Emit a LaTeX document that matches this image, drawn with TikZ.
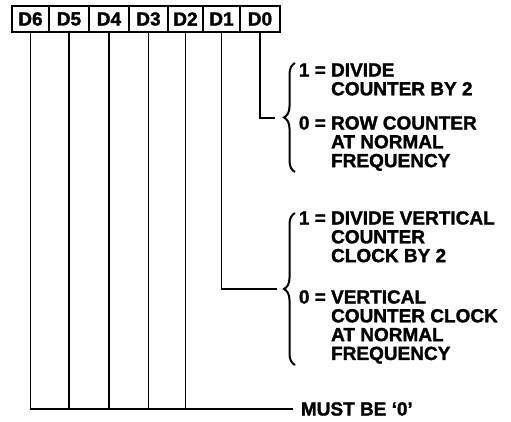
\documentclass[tikz,border=0pt]{standalone}
\usepackage{fontspec}
\setmainfont{Liberation Sans}[BoldFeatures={FakeBold=1.5}]
\usetikzlibrary{decorations.pathreplacing}

\begin{document}
\begin{tikzpicture}[x=1pt,y=-1pt,line width=1.8pt,
  bitbox/.style={draw,minimum height=26pt,inner sep=0pt,font=\fontsize{19}{18.5}\selectfont\bfseries},
  note/.style={anchor=base west,inner sep=0pt,font=\fontsize{19}{18.5}\selectfont\bfseries},
  curly/.style={decorate,decoration={brace,amplitude=11pt},line width=2pt}]
  \useasboundingbox (0,0) rectangle (511,421);
  % register bits
  \foreach \n/\l/\r in {6/12/49,5/49/89,4/89/129,3/129/168,2/168/203,1/203/240,0/240/280}
    \node[bitbox,minimum width={(\r-\l)*1pt}] (d\n) at ({(\l+\r)/2},19) {D\n};
  % D0
  \node[note] (one0) at (298,76.5) {\begin{tabular}[t]{@{}l@{ }l@{}}1 =&DIVIDE\\&COUNTER BY 2\end{tabular}};
  \node[note] (zero0) at (298,129.5) {\begin{tabular}[t]{@{}l@{ }l@{}}0 =&ROW COUNTER\\&AT NORMAL\\&FREQUENCY\end{tabular}};
  \draw[curly] (295,172) -- (295,63); \coordinate (tip0) at (275,118);
  \draw (d0.south) |- (tip0);
  % D1
  \node[note] (one1) at (298,224.5) {\begin{tabular}[t]{@{}l@{ }l@{}}1 =&DIVIDE VERTICAL\\&COUNTER\\&CLOCK BY 2\end{tabular}};
  \node[note] (zero1) at (298,303.5) {\begin{tabular}[t]{@{}l@{ }l@{}}0 =&VERTICAL\\&COUNTER CLOCK\\&AT NORMAL\\&FREQUENCY\end{tabular}};
  \draw[curly] (295,365) -- (295,213); \coordinate (tip1) at (277,289);
  \draw (d1.south) |- (tip1);
  % D6..D2
  \node[note,anchor=west,inner xsep=7pt] (must) at (293,409) {MUST BE ‘0’};
  \draw (d6.south) |- (must.west);
  \foreach \n in {5,4,3,2} \draw (d\n.south) -- (d\n.south |- must.west);
\end{tikzpicture}
\end{document}
